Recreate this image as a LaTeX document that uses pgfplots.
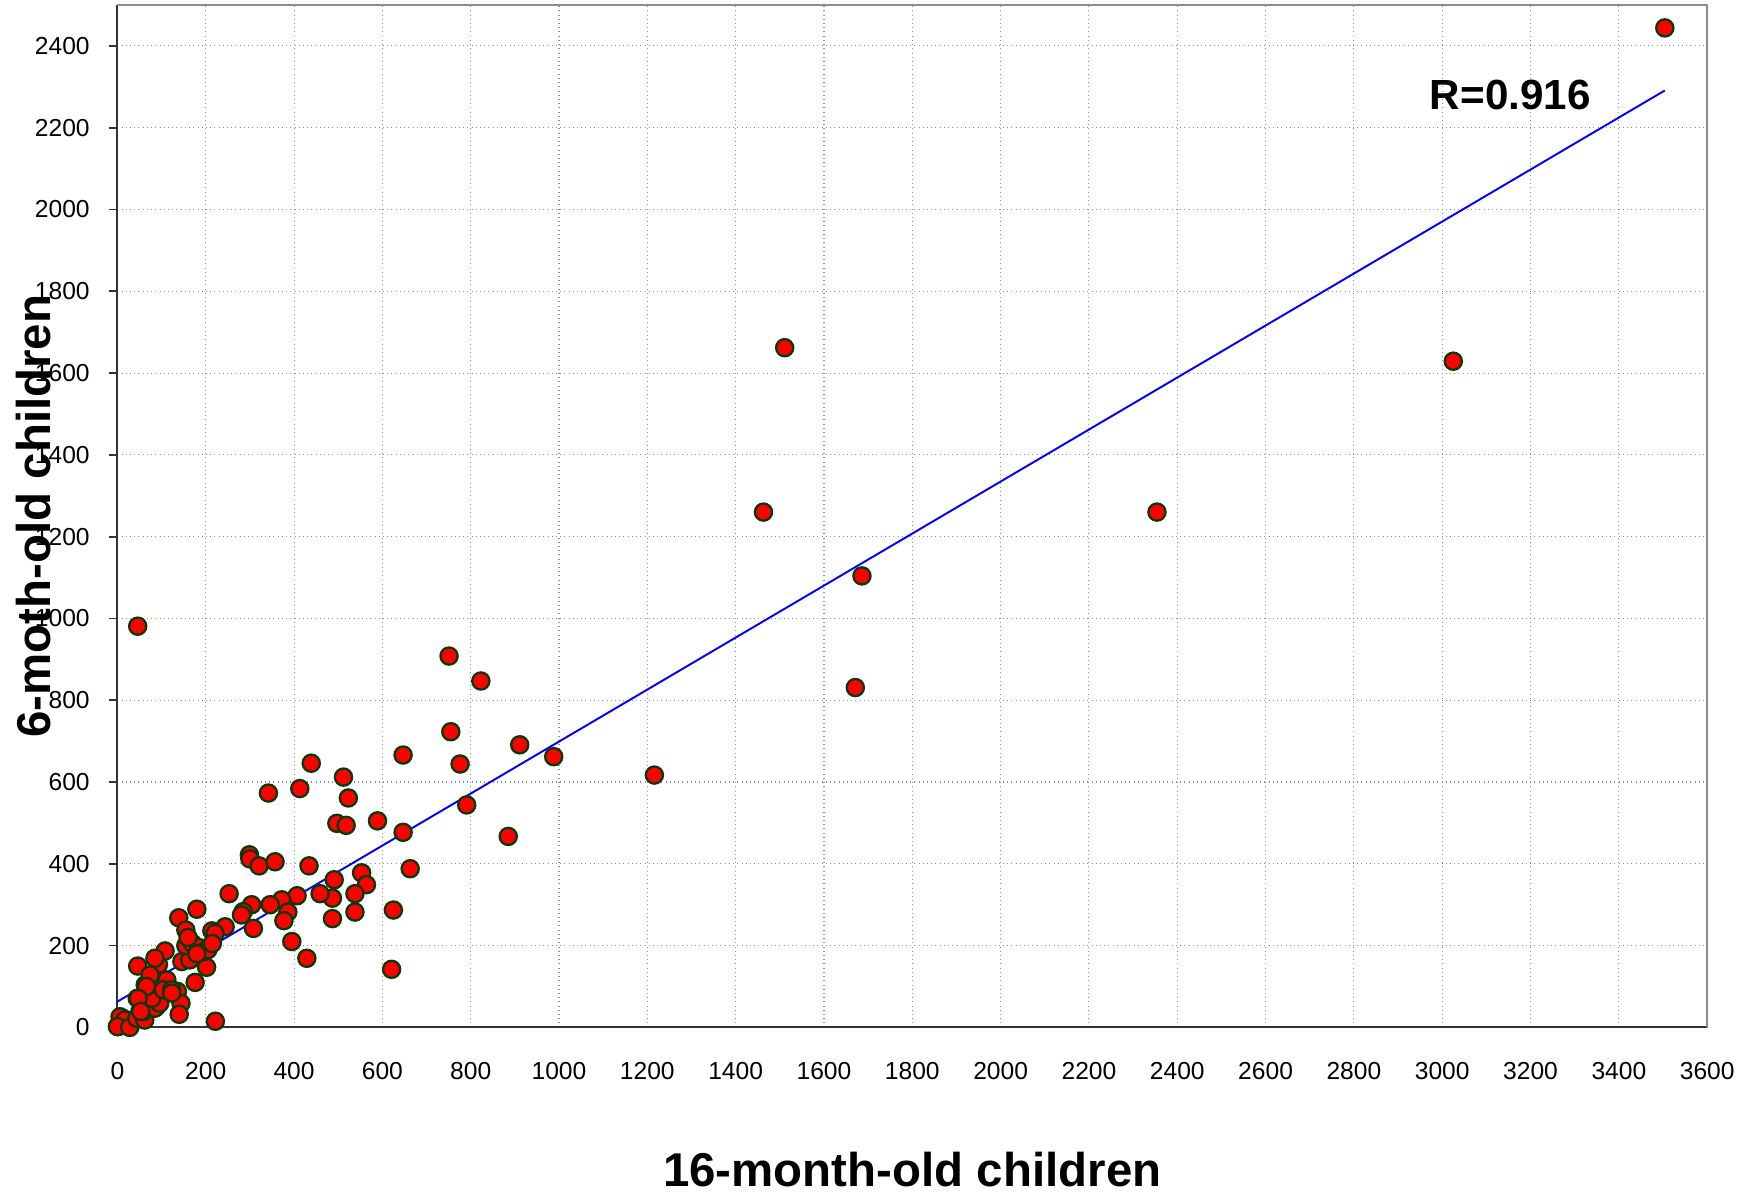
\documentclass[border=0pt]{standalone}
\usepackage{fontspec}
\setmainfont{Liberation Sans}
\usepackage{pgfplots}
\pgfplotsset{compat=1.18}
\definecolor{mkedge}{HTML}{0A3A0A}
\definecolor{gridgray}{HTML}{909090}
\begin{document}
\begin{tikzpicture}
\begin{axis}[
  name=ax, at={(0,0)}, anchor=south west,
  scale only axis, width=31.8cm, height=20.45cm,
  xmin=0, xmax=3600, ymin=0, ymax=2500,
  xtick={0,200,...,3600}, ytick={0,200,...,2400},
  axis lines=left, axis line style={-, line width=1.2pt, draw=black!80},
  grid=major, major grid style={dotted, gridgray, line width=0.6pt},
  xtick style={draw=none},
  ytick style={line width=1pt, black!80}, tick align=outside, major tick length=0.17cm,
  /pgf/number format/assume math mode=true,
  /pgf/number format/1000 sep={},
  tick label style={font=\fontsize{14}{16}\selectfont},
  xticklabel style={yshift=-0.4cm},
  yticklabel style={xshift=-0.26cm},
  xlabel={16-month-old children}, ylabel={6-moth-old children},
  label style={font=\bfseries\fontsize{27}{30}\selectfont},
  xlabel style={at={(axis description cs:0.5,-0.1395)}, anchor=center, inner sep=0pt},
  ylabel style={at={(axis description cs:-0.0528,0.5)}, anchor=center},
  clip=false,
]
% observations
\addplot[only marks, mark=*, mark size=4.9pt,
  mark options={fill=red, draw=mkedge, line width=1.3pt}] coordinates {
  (3504,2444) (1511,1662) (3025,1629) (1463,1260) (2354,1260) (1686,1104)
  (1671,831) (46,981) (751,908) (823,847) (755,723) (911,691) (988,662)
  (1216,617) (647,666) (776,644) (439,646) (512,612) (342,573) (413,584)
  (523,561) (791,544) (497,499) (518,494) (589,505) (647,477) (885,467)
  (299,422) (300,412) (321,395) (357,405) (434,395) (663,388) (553,378)
  (564,349) (491,361) (538,327) (538,282) (625,287) (487,316) (487,266)
  (621,142) (429,169) (395,210) (459,327) (407,322) (372,312) (346,300)
  (386,282) (377,261) (304,300) (285,283) (281,275) (308,242) (244,246)
  (214,236) (221,230) (253,327) (180,289) (139,268) (155,238) (46,150)
  (93,154) (108,187) (85,169) (146,161) (164,165) (202,147) (176,110)
  (136,88) (144,59) (140,32) (222,15) (155,200) (170,205) (185,195)
  (195,185) (205,190) (180,180) (215,205) (160,220) (89,51) (74,67)
  (45,71) (51,39) (32,10) (2,2) (13,22) (6,26) (17,18) (0,2) (28,0)
  (44,22) (62,18) (59,39) (85,47) (96,59) (78,71) (63,104) (93,104)
  (74,128) (112,116) (104,92) (123,92) (123,84) (66,100) (47,71) (53,39)
};
% regression line
\addplot[blue, line width=1.1pt] coordinates {(0,63) (3504,2291)};
\draw[black!45, line width=1.2pt] (rel axis cs:0,1) -- (rel axis cs:1,1) -- (rel axis cs:1,0);
\node[font=\bfseries\fontsize{24}{28}\selectfont] at (axis cs:3154,2280) {R=0.916};
\end{axis}
\pgfresetboundingbox
\useasboundingbox (-2.348cm,-3.31cm) rectangle (32.716cm,20.55cm);
\end{tikzpicture}
\end{document}
